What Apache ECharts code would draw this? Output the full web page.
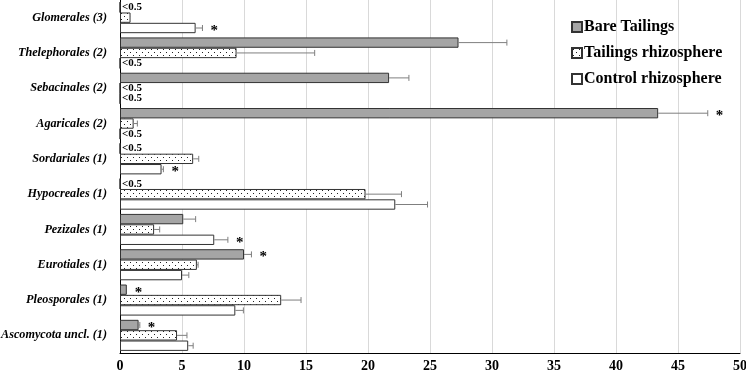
<!DOCTYPE html>
<html>
<head>
<meta charset="utf-8">
<script src="https://cdn.jsdelivr.net/npm/echarts@6/dist/echarts.min.js"></script>
<style>
  html, body { margin: 0; padding: 0; background: #fff; }
  #chart { width: 746px; height: 376px; }
</style>
</head>
<body>
<div id="chart"></div>
<script>
var categories = ['Glomerales (3)', 'Thelephorales (2)', 'Sebacinales (2)', 'Agaricales (2)', 'Sordariales (1)',
  'Hypocreales (1)', 'Pezizales (1)', 'Eurotiales (1)', 'Pleosporales (1)', 'Ascomycota uncl. (1)'];
var xTicks = [0, 5, 10, 15, 20, 25, 30, 35, 40, 45, 50];

var bare    = [0, 27.3, 21.7, 43.4, 0, 0, 5.1, 10.0, 0.55, 1.5];
var bareErr = [0, 3.9, 1.6, 4.0, 0, 0, 1.0, 0.6, 0, 0.1];
var bareMark = ['<0.5', '', '', '*', '<0.5', '<0.5', '', '*', '*', '*'];

var tail    = [0.85, 9.4, 0, 1.1, 5.9, 19.8, 2.75, 6.2, 13.0, 4.6];
var tailErr = [0, 6.3, 0, 0.3, 0.45, 2.9, 0.45, 0.1, 1.6, 0.8];
var tailMark = ['', '', '<0.5', '', '', '', '', '', '', ''];

var ctrl    = [6.1, 0, 0, 0, 3.35, 22.2, 7.6, 5.0, 9.3, 5.5];
var ctrlErr = [0.55, 0, 0, 0, 0.15, 2.6, 1.1, 0.55, 0.65, 0.4];
var ctrlMark = ['*', '<0.5', '<0.5', '<0.5', '*', '', '*', '', '', ''];

var GAP = 0.12; // barCategoryGap
var serif = '"Liberation Serif", "Times New Roman", serif';

// dotted fill for tailings rhizosphere
function dots() {
  var c = document.createElement('canvas');
  c.width = 6; c.height = 6;
  var g = c.getContext('2d');
  g.fillStyle = '#fff';
  g.fillRect(0, 0, 6, 6);
  g.fillStyle = '#222';
  g.fillRect(1, 1, 1, 1);
  g.fillRect(4, 4, 1, 1);
  return c;
}

var chart = echarts.init(document.getElementById('chart'));

function barSeries(name, vals, fill) {
  return {
    name: name,
    type: 'bar',
    data: vals,
    barGap: '0%',
    barCategoryGap: (GAP * 100) + '%',
    itemStyle: { color: fill, borderColor: '#333', borderWidth: 1 }
  };
}

// error bars + "<0.5" / "*" notes, slot k (0 = top bar in group)
function extraSeries(k, vals, errs, marks) {
  var data = vals.map(function (v, i) { return [v, i, errs[i], marks[i]]; });
  return {
    type: 'custom',
    name: 'extra' + k,
    z: 5,
    encode: { x: 0, y: 1 },
    data: data,
    renderItem: function (params, api) {
      var i = params.dataIndex;
      var v = data[i][0], e = data[i][2], m = data[i][3];
      var band = api.size([0, 1])[1];
      var bw = band * (1 - GAP) / 3;
      var c = api.coord([v, i]);
      var y = c[1] - 1.5 * bw + bw * (k + 0.5);
      var x0 = api.coord([0, i])[0];
      var xe = api.coord([v + e, i])[0];
      var kids = [];
      if (e > 0) {
        kids.push({ type: 'line', shape: { x1: c[0], y1: y, x2: xe, y2: y },
          style: { stroke: '#7f7f7f', lineWidth: 1 } });
        kids.push({ type: 'line', shape: { x1: xe, y1: y - 3, x2: xe, y2: y + 3 },
          style: { stroke: '#7f7f7f', lineWidth: 1 } });
      }
      if (m === '<0.5') {
        kids.push({ type: 'text', x: x0 + 2, y: y,
          style: { text: m, font: 'bold 11px ' + serif, fill: '#000', align: 'left', verticalAlign: 'middle' } });
      } else if (m === '*') {
        kids.push({ type: 'text', x: Math.max(xe, c[0]) + 8, y: y + 3,
          style: { text: m, font: 'bold 15px ' + serif, fill: '#000', align: 'left', verticalAlign: 'middle' } });
      }
      return { type: 'group', children: kids };
    }
  };
}

chart.setOption({
  animation: false,
  backgroundColor: '#fff',
  grid: { left: 120, right: 6, top: 0, bottom: 23, containLabel: false, outerBoundsMode: 'none' },
  legend: {
    data: ['Bare Tailings', 'Tailings rhizosphere', 'Control rhizosphere'],
    orient: 'vertical',
    left: 566,
    top: 13,
    itemWidth: 10,
    itemHeight: 10,
    itemGap: 8,
    icon: 'rect',
    textStyle: { fontFamily: serif, fontWeight: 'bold', fontSize: 16, lineHeight: 18, color: '#000', padding: [0, 0, 0, -3] }
  },
  xAxis: {
    type: 'value',
    min: 0,
    max: 50,
    interval: 5,
    axisLine: { show: true, lineStyle: { color: '#000', width: 1 } },
    axisTick: { show: false },
    splitLine: { lineStyle: { color: '#d9d9d9', width: 1 } },
    axisLabel: {
      fontFamily: serif, fontWeight: 'bold', fontSize: 14, color: '#000', margin: 6,
      formatter: function (v) { return xTicks.indexOf(v) >= 0 ? String(v) : ''; }
    }
  },
  yAxis: {
    type: 'category',
    inverse: true,
    data: categories,
    axisLine: { show: true, lineStyle: { color: '#000', width: 1 } },
    axisTick: { show: false },
    axisLabel: { fontFamily: serif, fontWeight: 'bold', fontStyle: 'italic', fontSize: 12.2, color: '#000', margin: 13 }
  },
  series: [
    barSeries('Bare Tailings', bare, '#a5a5a5'),
    barSeries('Tailings rhizosphere', tail, { image: dots(), repeat: 'repeat' }),
    barSeries('Control rhizosphere', ctrl, '#ffffff'),
    extraSeries(0, bare, bareErr, bareMark),
    extraSeries(1, tail, tailErr, tailMark),
    extraSeries(2, ctrl, ctrlErr, ctrlMark)
  ]
});
</script>
</body>
</html>
